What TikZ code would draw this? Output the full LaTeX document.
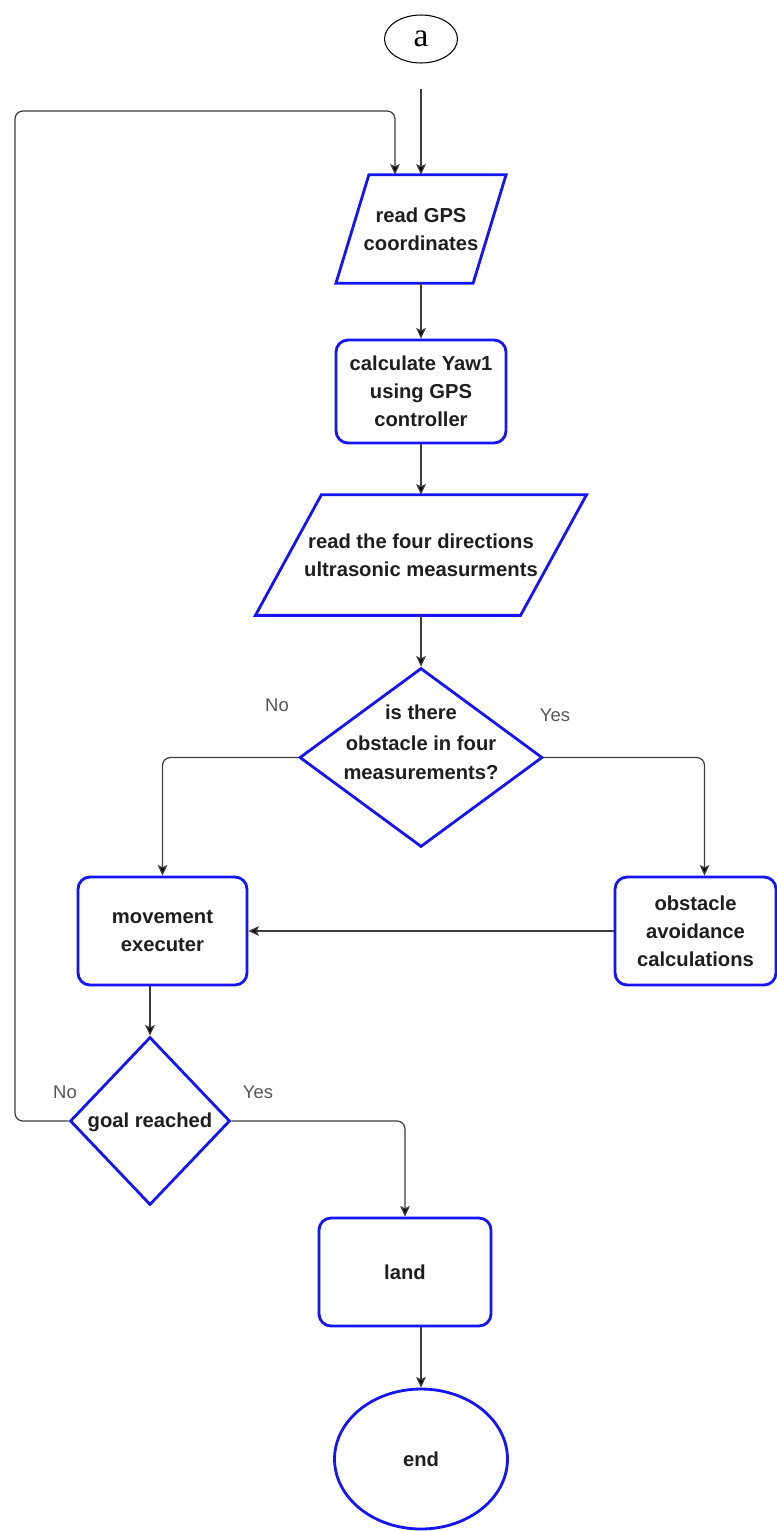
\documentclass[tikz,border=0pt]{standalone}
\usepackage{fontspec}
\setmainfont{Liberation Sans}
\newfontfamily\connfont{Liberation Serif}
\usetikzlibrary{arrows.meta,calc,shapes.geometric}

\definecolor{flowblue}{RGB}{20,20,245}
\definecolor{flowtext}{RGB}{30,30,30}
\definecolor{flowline}{RGB}{60,60,60}
\definecolor{labelgray}{RGB}{85,85,85}

\tikzset{
  outline/.style={draw=flowblue, line width=1.6pt},
  boxtext/.style={font=\bfseries\fontsize{11.5}{16}\selectfont, text=flowtext, align=center},
  procbox/.style={outline, rounded corners=0.24cm, boxtext, inner sep=0pt},
  iobox/.style={boxtext, inner sep=0pt},
  decision/.style={outline, diamond, inner sep=0pt},
  terminal/.style={outline, ellipse, boxtext, inner sep=0pt},
  connector/.style={draw=black, ellipse, line width=0.6pt, inner sep=0pt,
    font=\connfont\fontsize{19}{21}\selectfont},
  conn/.style={draw=flowline, line width=0.7pt, rounded corners=4.5pt,
    -{Stealth[length=6pt,width=5.5pt,inset=1.2pt,fill=black]}},
  branch/.style={font=\fontsize{10.5}{12}\selectfont, text=labelgray}
}

\begin{document}
\begin{tikzpicture}[x=0.02cm, y=-0.02cm]
  \useasboundingbox (0,0) rectangle (777,1531);

  % off-page connector
  \node[connector, minimum width=1.46cm, minimum height=0.96cm] (a) at (421,39) {a};

  % input: GPS coordinates
  \node[iobox, minimum width=2.73cm, minimum height=2.16cm] (p1) at (421,229)
    {read GPS\\coordinates};
  \draw[outline] ($(p1.south west)+(-16.5,0)$) -- ($(p1.north west)+(16.5,0)$)
    -- ($(p1.north east)+(16.5,0)$) -- ($(p1.south east)+(-16.5,0)$) -- cycle;

  % heading from GPS
  \node[procbox, minimum width=3.4cm, minimum height=2.06cm] (b2) at (421,391.5)
    {calculate Yaw1\\using GPS\\controller};

  % input: ultrasonic sensors
  \node[iobox, minimum width=5.29cm, minimum height=2.4cm] (p2) at (421,555)
    {read the four directions\\ultrasonic measurments};
  \draw[outline] ($(p2.south west)+(-33,0)$) -- ($(p2.north west)+(33,0)$)
    -- ($(p2.north east)+(33,0)$) -- ($(p2.south east)+(-33,0)$) -- cycle;

  % obstacle decision
  \node[decision, minimum width=4.86cm, minimum height=3.58cm] (d1) at (421,757.5) {};
  \node[boxtext] (d1t) at (421,742) {is there\\[2pt]obstacle in four\\measurements?};

  % movement and avoidance
  \node[procbox, minimum width=3.38cm, minimum height=2.16cm] (mv) at (162.5,931)
    {movement\\executer};
  \node[procbox, minimum width=3.22cm, minimum height=2.16cm] (ob) at (695.5,931)
    {obstacle\\avoidance\\calculations};

  % goal decision
  \node[decision, minimum width=3.2cm, minimum height=3.36cm] (d2) at (150,1121) {};
  \node[boxtext] (d2t) at (150,1122) {goal reached};

  % landing and end
  \node[procbox, minimum width=3.44cm, minimum height=2.16cm] (land) at (405,1272) {land};
  \node[terminal, minimum width=3.46cm, minimum height=2.8cm] (end) at (421,1459) {end};

  % branch labels
  \node[branch] (no1) at (277,705) {No};
  \node[branch] (yes1) at (555,715) {Yes};
  \node[branch] (no2) at (65,1092) {No};
  \node[branch] (yes2) at (258,1092) {Yes};

  % connectors
  \coordinate (entry) at ($(a.south)+(0,25)$);
  \coordinate (loopcorner) at (15,111);
  \draw[conn] (entry) -- (p1.north);
  \draw[conn] (d2.west) -| (loopcorner) -| ($(p1.north)+(-26,0)$);
  \draw[conn] (p1.south) -- (b2.north);
  \draw[conn] (b2.south) -- (p2.north);
  \draw[conn] (p2.south) -- (d1.north);
  \draw[conn] (d1.west) -| (mv.north);
  \draw[conn] (d1.east) -| ($(ob.north)+(9,0)$);
  \draw[conn] (ob.west) -- (mv.east);
  \draw[conn] (mv.south -| d2.north) -- (d2.north);
  \draw[conn] (d2.east) -| (land.north);
  \draw[conn] (land.south -| end.north) -- (end.north);
\end{tikzpicture}
\end{document}
